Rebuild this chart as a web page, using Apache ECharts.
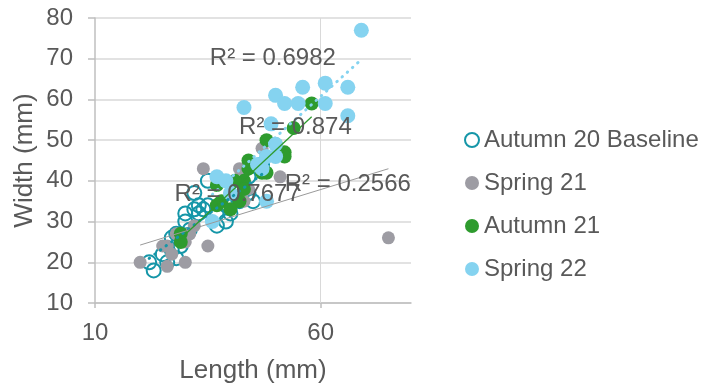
<!DOCTYPE html>
<html>
<head>
<meta charset="utf-8">
<script src="https://cdn.jsdelivr.net/npm/echarts@6/dist/echarts.min.js"></script>
<style>
  html, body { margin: 0; padding: 0; background: #fff; }
  #main { width: 702px; height: 384px; }
</style>
</head>
<body>
<div id="main"></div>
<script>
// length (mm), width (mm) per survey
var autumn20 = [[22,20],[23,18],[25,22],[27,23],[27,26],[29,24],[28,27],[30,30],[30,32],[32,33],
    [33,32],[33,34],[34,33],[35,34],[37,32],[37,29],[39,30],[40,32],[39,34],[42,35],
    [44,37],[45,35],[35,40],[32,37],[47,44],[41,39],[44,41],[31,28],[26,20],[28,21]];
var spring21 = [[20,20],[26,19],[30,20],[35,24],[25,24],[28,27],[32,29],[26,24],[30,25],[34,43],
    [42,43],[47,48],[51,41],[75,26],[27,22],[29,26],[43,35],[31,27],[44,38]];
var autumn21 = [[58,59],[54,53],[48,50],[52,47],[52,46],[44,45],[47,42],[43,40],[41,40],[37,39],
    [38,35],[42,35],[29,27],[29,25],[50,49],[48,42],[44,43],[43,38],[40,33],[37,34]];
var spring22 = [[69,77],[61,64],[66,63],[56,63],[50,61],[43,58],[55,59],[52,59],[61,59],[66,56],
    [49,54],[50,49],[50,46],[46,44],[48,46],[37,41],[48,35],[40,37],[36,30],[39,40],[47,43]];

var seriesNames = ['Autumn 20 Baseline', 'Spring 21', 'Autumn 21', 'Spring 22'];
var r2Text = ['R² = 0.7677', 'R² = 0.2566', 'R² = 0.874', 'R² = 0.6982'];
var r2Pos = [[41.6, 36.8], [66, 39.2], [54.4, 53.2], [49.4, 70.2]];
var xTicks = [10, 60];

var font = 'Liberation Sans, Arial, sans-serif';
var textColor = '#595959';

// least squares line over the x range of the points
function trend(pts) {
    var n = pts.length, sx = 0, sy = 0, sxx = 0, sxy = 0;
    var lo = Infinity, hi = -Infinity;
    for (var i = 0; i < n; i++) {
        sx += pts[i][0]; sy += pts[i][1];
        sxx += pts[i][0] * pts[i][0]; sxy += pts[i][0] * pts[i][1];
        lo = Math.min(lo, pts[i][0]); hi = Math.max(hi, pts[i][0]);
    }
    var b = (n * sxy - sx * sy) / (n * sxx - sx * sx);
    var a = (sy - b * sx) / n;
    return [[lo, a + b * lo], [hi, a + b * hi]];
}

var myChart = echarts.init(document.getElementById('main'));

var dots = [0.5, 6.5];
var trendStyles = [
    {color: '#1596a8', width: 3, type: dots, cap: 'round'},
    {color: '#9a9a9a', width: 1, type: 'solid'},
    {color: '#2e9b2e', width: 1.3, type: 'solid'},
    {color: '#85d3f0', width: 3, type: dots, cap: 'round'}
];
var allData = [autumn20, spring21, autumn21, spring22];

var seriesarr = [
    {
        name: seriesNames[0], type: 'scatter', data: autumn20, symbolSize: 14, z: 2,
        itemStyle: {color: 'rgba(255,255,255,0)', borderColor: '#1596a8', borderWidth: 2, opacity: 1},
        markLine: {
            silent: true, symbol: 'none', label: {show: false},
            lineStyle: {color: '#d9d9d9', width: 1, type: 'solid'},
            data: [{xAxis: xTicks[1]}]
        }
    },
    {name: seriesNames[1], type: 'scatter', data: spring21, symbolSize: 13, z: 3,
        itemStyle: {color: '#9d9ca3', opacity: 1}},
    {name: seriesNames[2], type: 'scatter', data: autumn21, symbolSize: 14, z: 4,
        itemStyle: {color: '#2e9b2e', opacity: 1}},
    {name: seriesNames[3], type: 'scatter', data: spring22, symbolSize: 15, z: 5,
        itemStyle: {color: '#85d3f0', opacity: 1}}
];

for (var i = 0; i < allData.length; i++) {
    seriesarr.push({
        name: seriesNames[i] + ' trend',
        type: 'line',
        data: trend(allData[i]),
        symbol: 'none',
        silent: true,
        z: 10,
        lineStyle: trendStyles[i],
        markPoint: {
            symbol: 'circle', symbolSize: 0, z: 20,
            label: {
                show: true, position: 'inside', formatter: '{b}',
                fontSize: 24, color: textColor, fontFamily: font
            },
            data: [{name: r2Text[i], coord: r2Pos[i]}]
        }
    });
}

var option = {
    animation: false,
    backgroundColor: '#fff',
    grid: {left: 95, right: 291, top: 18, bottom: 81, containLabel: false, outerBoundsMode: 'none'},
    legend: {
        orient: 'vertical',
        left: 464,
        top: 128,
        padding: 0,
        itemWidth: 14,
        itemHeight: 14,
        itemGap: 19,
        icon: 'circle',
        data: seriesNames,
        textStyle: {fontSize: 24, color: textColor, fontFamily: font}
    },
    xAxis: {
        type: 'value',
        min: 10,
        max: 80,
        interval: 50,
        name: 'Length (mm)',
        nameLocation: 'middle',
        nameGap: 55,
        nameTextStyle: {fontSize: 26, color: textColor, fontFamily: font},
        axisLine: {show: true, lineStyle: {color: '#bfbfbf', width: 1.5}},
        axisTick: {show: true, length: 5, customValues: xTicks, lineStyle: {color: '#bfbfbf', width: 1.5}},
        axisLabel: {customValues: xTicks, margin: 18, fontSize: 24, color: textColor, fontFamily: font},
        splitLine: {show: false}
    },
    yAxis: {
        type: 'value',
        min: 10,
        max: 80,
        interval: 10,
        name: 'Width (mm)',
        nameLocation: 'middle',
        nameGap: 57,
        nameTextStyle: {fontSize: 26, color: textColor, fontFamily: font},
        axisLine: {show: true, lineStyle: {color: '#bfbfbf', width: 1.5}},
        axisTick: {show: true, length: 7, lineStyle: {color: '#bfbfbf', width: 1.5}},
        axisLabel: {margin: 22, fontSize: 24, color: textColor, fontFamily: font},
        splitLine: {show: true, lineStyle: {color: '#d9d9d9', width: 1.5}}
    },
    series: seriesarr
};

myChart.setOption(option);
</script>
</body>
</html>
